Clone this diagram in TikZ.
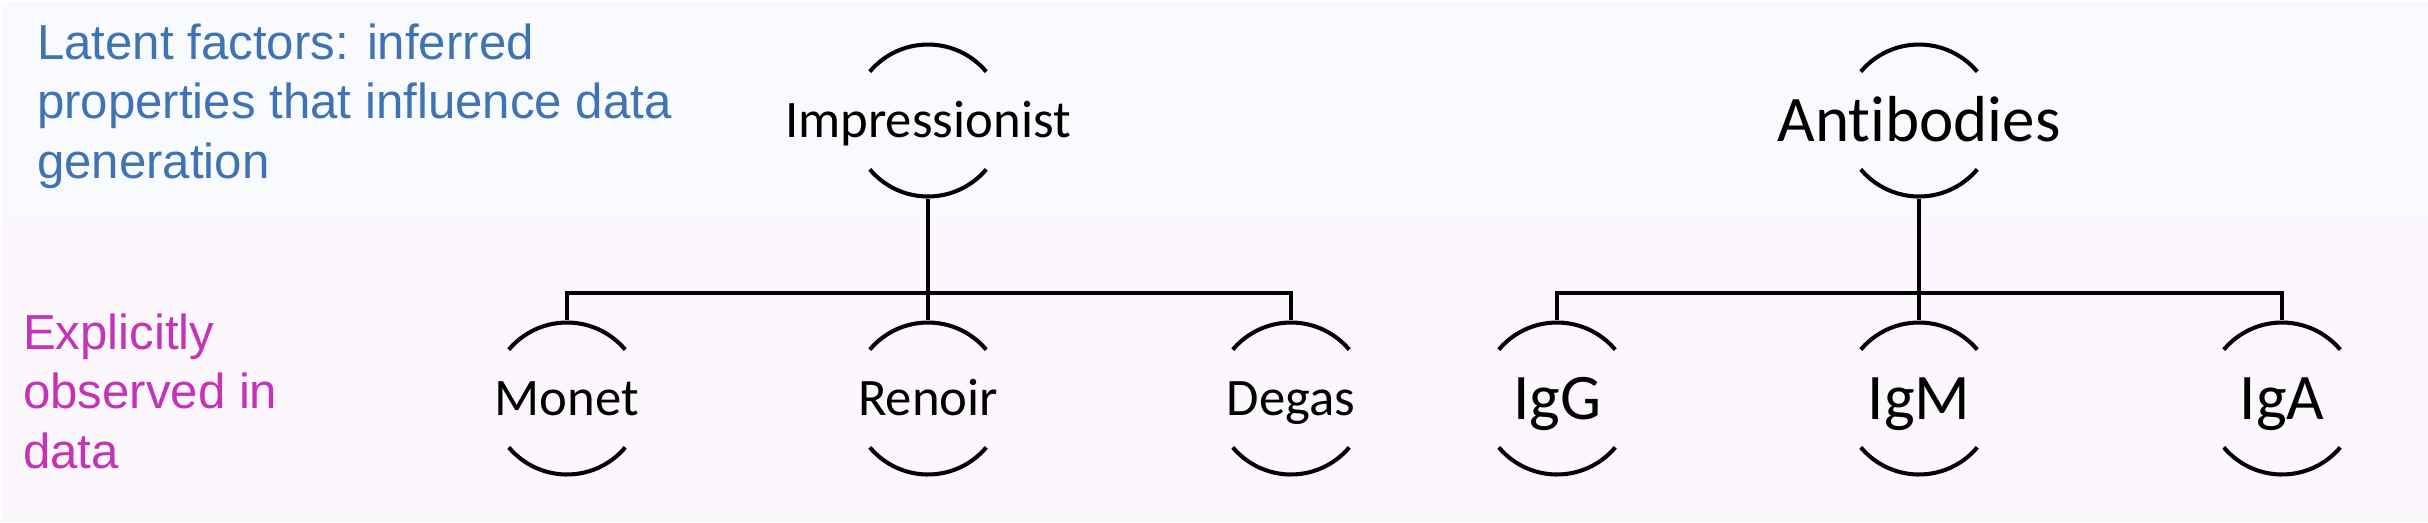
\documentclass[tikz,border=0pt]{standalone}
\usepackage{fontspec}
\usepackage{tikz}
\usepackage{xcolor}
\newfontfamily\calibrifont[Ligatures=NoCommon]{Carlito}
\newfontfamily\arialfont{Liberation Sans}
\definecolor{latent}{HTML}{3F73B3}
\definecolor{observed}{HTML}{C434B6}
\definecolor{topback}{HTML}{F8FAFD}
\definecolor{bottomback}{HTML}{FBF7FC}
\tikzset{
	factor/.style={minimum height=1.52cm, inner sep=0pt, text height=9.5pt, text depth=0pt, font=\calibrifont\fontsize{15}{18}\selectfont},
	bigfactor/.style={factor, text height=11.7pt, font=\calibrifont\fontsize{18.5}{22}\selectfont},
	note/.style={inner sep=0pt, anchor=base west, align=left, font=\arialfont\fontsize{14}{16.8}\selectfont}
}
\begin{document}
\begin{tikzpicture}[line width=1.15pt]
		\useasboundingbox (0,0) rectangle (24.28,-5.22);
		\fill[topback] (0.01,-0.02) rectangle (24.28,-2.15);
		\fill[bottomback] (0.01,-2.15) rectangle (24.28,-5.22);
		
		\node[note, text=latent] (latenttext) at (0.35,-1.78) {Latent factors: inferred\\properties that influence data\\generation};
		\node[note, text=observed] (observedtext) at (0.21,-4.68) {Explicitly\\observed in\\data};
		
		\node[factor] (imp) at (9.28,-1.205) {Impressionist};
		\node[factor] (mon) at (5.67,-3.985) {Monet};
		\node[factor] (ren) at (9.28,-3.985) {Renoir};
		\node[factor] (deg) at (12.91,-3.985) {Degas};
		
		\node[bigfactor] (ant) at (19.19,-1.205) {Antibodies};
		\node[bigfactor] (igg) at (15.57,-3.985) {IgG};
		\node[bigfactor] (igm) at (19.19,-3.985) {IgM};
		\node[bigfactor] (iga) at (22.82,-3.985) {IgA};
		
		\foreach \n in {imp,mon,ren,deg,ant,igg,igm,iga} {
			\draw ([shift={(40:0.76)}]\n.center) arc[start angle=40, end angle=140, radius=0.76];
			\draw ([shift={(220:0.76)}]\n.center) arc[start angle=220, end angle=320, radius=0.76];
		}
		
		\coordinate (impbar) at (9.28,-2.93);
		\coordinate (antbar) at (19.19,-2.93);
		\draw (imp.south) -- (ren.north);
		\draw (mon.north) |- (impbar) -| (deg.north);
		\draw (ant.south) -- (igm.north);
		\draw (igg.north) |- (antbar) -| (iga.north);
	\end{tikzpicture}
\end{document}
